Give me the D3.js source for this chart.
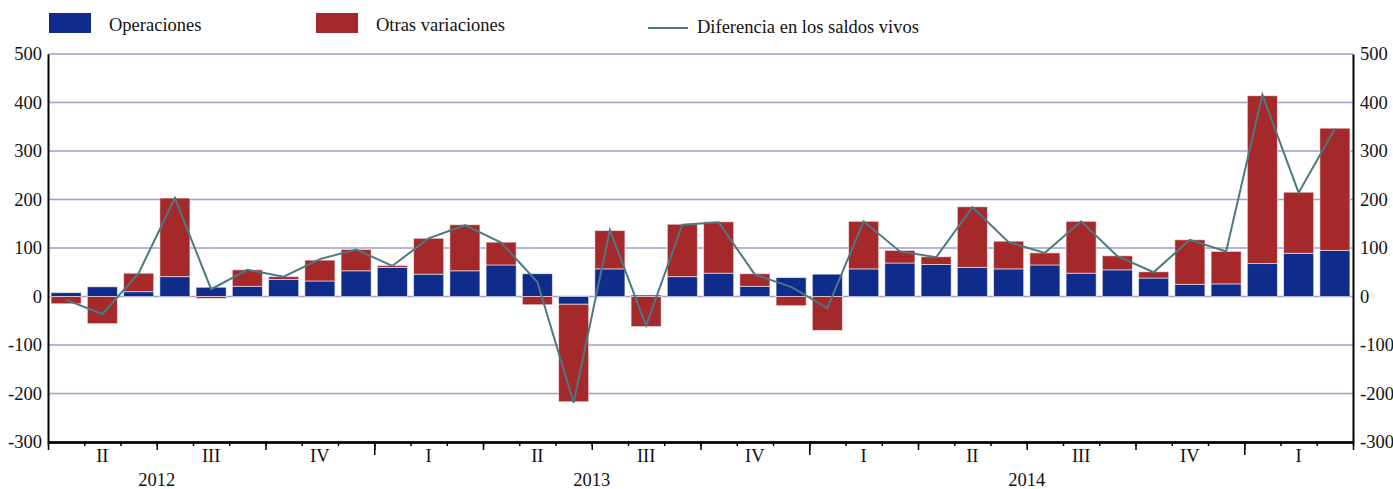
<!DOCTYPE html>
<meta charset="utf-8">
<script src="https://d3js.org/d3.v7.min.js"></script>
<style>
body { margin:0; background:#fff; }
svg text { font-family: "Liberation Serif", "Times New Roman", serif; fill:#111; }
.grid line { stroke:#9c9cd0; stroke-width:1.3; }
</style>
<body></body>
<script>

// monthly data, April 2012 - March 2015
var months = ["2012-04","2012-05","2012-06","2012-07","2012-08","2012-09","2012-10","2012-11","2012-12",
  "2013-01","2013-02","2013-03","2013-04","2013-05","2013-06","2013-07","2013-08","2013-09","2013-10","2013-11","2013-12",
  "2014-01","2014-02","2014-03","2014-04","2014-05","2014-06","2014-07","2014-08","2014-09","2014-10","2014-11","2014-12",
  "2015-01","2015-02","2015-03"];
var operaciones = [8,20,10,41,19,21,35,32,53,60,46,53,65,47,-16,57,3,41,48,21,39,46,57,69,66,60,57,65,48,55,38,25,26,68,89,95];
var otras = [-15,-56,38,162,-4,34,6,43,44,4,74,95,47,-17,-201,79,-62,108,106,26,-19,-70,98,26,16,125,57,25,107,29,13,92,67,346,126,252];
var diferencia = [-7,-36,48,203,15,55,41,77,97,63,120,147,111,30,-219,137,-60,148,153,45,20,-24,155,93,81,184,112,90,155,83,50,117,93,416,214,346];

var quarterLabels = ["II","III","IV","I","II","III","IV","I","II","III","IV","I"];
var yearLabels = ["2012","2013","2014"];
var yearStart = [9,21,33];   // month index of each January
var yTicks = [-300,-200,-100,0,100,200,300,400,500];

var W = 1393, H = 489;
var mLeft = 48, mRight = 1353, mTop = 54, mBottom = 442;
var fs = 18.5;

var svg = d3.select('body').append('svg')
  .attr('width',W)
  .attr('height',H);

var table = months.map(function(m,i){ return {month:m, ops:operaciones[i], otr:otras[i], dif:diferencia[i]}; });

//scales
var x = d3.scaleBand()
  .domain(months)
  .range([mLeft,mRight])
  .paddingInner(0.17)
  .paddingOuter(0.085);

var xIdx = d3.scaleLinear()
  .domain([0,months.length])
  .range([mLeft,mRight]);

var y = d3.scaleLinear()
  .domain([-300,500])
  .range([mBottom,mTop]);

//grid
svg.append('g')
  .attr('class','grid')
  .selectAll('line')
  .data(yTicks.filter(function(d){ return d > -300; }))
  .enter().append('line')
  .attr('x1',mLeft).attr('x2',mRight)
  .attr('y1',function(d){ return y(d); })
  .attr('y2',function(d){ return y(d); });

//bars
var stack = d3.stack()
  .keys(['ops','otr'])
  .offset(d3.stackOffsetDiverging);
var series = stack(table);
var colors = {ops:'#0f2b8b', otr:'#a5292b'};

svg.selectAll('.serie')
  .data(series)
  .enter().append('g')
  .attr('class','serie')
  .attr('fill',function(d){ return colors[d.key]; })
  .selectAll('rect')
  .data(function(d){ return d; })
  .enter().append('rect')
  .attr('x',function(d){ return x(d.data.month); })
  .attr('width',x.bandwidth())
  .attr('y',function(d){ return y(Math.max(d[0],d[1])); })
  .attr('height',function(d){ return Math.abs(y(d[0]) - y(d[1])); })
  .attr('stroke','#ffffff')
  .attr('stroke-opacity',0.55)
  .attr('stroke-width',1);

//line
var line = d3.line()
  .x(function(d){ return x(d.month) + x.bandwidth()/2; })
  .y(function(d){ return y(d.dif); });

svg.append('path')
  .datum(table)
  .attr('d',line)
  .attr('fill','none')
  .attr('stroke','#4a7a80')
  .attr('stroke-width',2);

//y axes (plain hyphen for negatives)
var fmt = function(d){ return String(d); };
var yLeft = d3.axisLeft(y).tickValues(yTicks).tickFormat(fmt).tickSize(0).tickSizeOuter(0).tickPadding(6);
var yRight = d3.axisRight(y).tickValues(yTicks).tickFormat(fmt).tickSize(0).tickSizeOuter(0).tickPadding(7);

svg.append('g')
  .attr('transform','translate('+mLeft+',0)')
  .call(yLeft);
svg.append('g')
  .attr('transform','translate('+mRight+',0)')
  .call(yRight);

//x axis: month, quarter and year ticks
var monthAxis = d3.axisBottom(xIdx).tickValues(d3.range(months.length+1)).tickFormat('').tickSize(4).tickSizeOuter(0);
var quarterAxis = d3.axisBottom(xIdx).tickValues(d3.range(0,months.length+1,3)).tickFormat('').tickSize(8).tickSizeOuter(0);
var yearAxis = d3.axisBottom(xIdx).tickValues(yearStart).tickFormat('').tickSize(13).tickSizeOuter(0);

[monthAxis,quarterAxis,yearAxis].forEach(function(ax){
  svg.append('g')
    .attr('transform','translate(0,'+mBottom+')')
    .call(ax);
});

svg.selectAll('g').attr('font-family',null).attr('font-size',null);
svg.selectAll('.domain').attr('stroke','#000').attr('stroke-width',2);
svg.selectAll('.tick line').attr('stroke','#000').attr('stroke-width',1.5);
svg.selectAll('.tick text').attr('font-size',fs).attr('fill','#111');

svg.selectAll('.qlab')
  .data(quarterLabels)
  .enter().append('text')
  .attr('class','qlab')
  .attr('x',function(d,i){ return xIdx(3*i+1.5); })
  .attr('y',462)
  .attr('text-anchor','middle')
  .attr('font-size',fs)
  .text(function(d){ return d; });

svg.selectAll('.ylab')
  .data(yearLabels)
  .enter().append('text')
  .attr('class','ylab')
  .attr('x',function(d,i){ return xIdx(yearStart[i]-6); })
  .attr('y',486)
  .attr('text-anchor','middle')
  .attr('font-size',fs)
  .text(function(d){ return d; });

//legend
var legend = svg.append('g').attr('class','legend');
legend.append('rect').attr('x',49).attr('y',13).attr('width',42).attr('height',20).attr('fill',colors.ops);
legend.append('text').attr('x',109).attr('y',31).attr('font-size',fs).text('Operaciones');
legend.append('rect').attr('x',316).attr('y',13).attr('width',42).attr('height',20).attr('fill',colors.otr);
legend.append('text').attr('x',376).attr('y',31).attr('font-size',fs).text('Otras variaciones');
legend.append('line').attr('x1',648).attr('x2',688).attr('y1',28).attr('y2',28).attr('stroke','#4a7a80').attr('stroke-width',2);
legend.append('text').attr('x',697).attr('y',33).attr('font-size',fs).text('Diferencia en los saldos vivos');

</script>
